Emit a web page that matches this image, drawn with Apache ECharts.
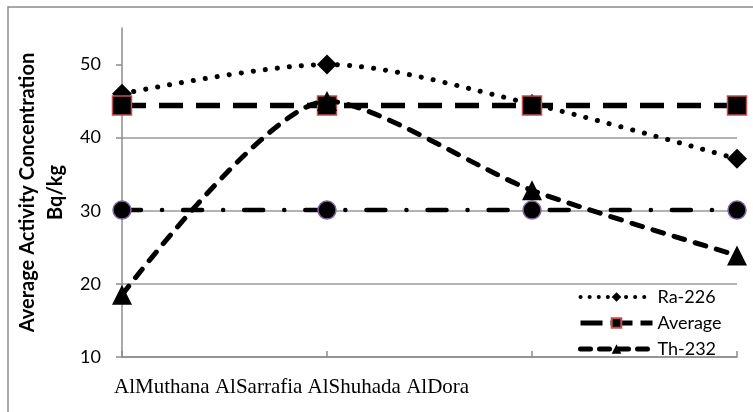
<!DOCTYPE html>
<html>
<head>
<meta charset="utf-8">
<script src="https://cdn.jsdelivr.net/npm/echarts@6/dist/echarts.min.js"></script>
<style>html,body{margin:0;padding:0;background:#fff}#c{width:753px;height:412px}</style>
</head>
<body>
<div id="c"></div>
<script>
const categories = ['AlMuthana', 'AlSarrafia', 'AlShuhada', 'AlDora'];
const ra226 = [46.0, 50.0, 44.6, 37.1];
const raAverage = [44.4, 44.4, 44.4, 44.4];
const th232 = [18.5, 45.0, 32.8, 23.9];
const thAverage = [30.1, 30.1, 30.1, 30.1];
const yTicks = [10, 20, 30, 40, 50];
const legendNames = ['Ra-226', 'Average', 'Th-232'];

const chart = echarts.init(document.getElementById('c'));
const gray = '#8c8c8c';
const labelFont = 'Lato, "Open Sans", sans-serif';

const raLine = { color: '#000', width: 5, type: [0.1, 12], cap: 'round' };
const avgLine = { color: '#000', width: 5.5, type: [24, 13] };
const thLine = { color: '#000', width: 5, type: [11, 11], cap: 'round' };
const thAvgLine = { color: '#000', width: 4.5, type: [19, 21, 0.1, 21], cap: 'round' };

chart.setOption({
  animation: false,
  backgroundColor: '#fff',
  grid: { left: 122, right: 16, top: 28, bottom: 55 },
  graphic: [
    { type: 'rect', shape: { x: 8, y: 7, width: 800, height: 450 }, style: { fill: 'none', stroke: gray, lineWidth: 1.5 }, silent: true, z: 0 },
    { type: 'text', left: 114, top: 377, style: { text: categories.join(' '), font: '21px "Liberation Serif", "Times New Roman", serif', fill: '#000' }, z: 10 }
  ],
  legend: {
    data: [
      { name: legendNames[0], lineStyle: { width: 4, type: [0.1, 9], cap: 'round' } },
      { name: legendNames[1], lineStyle: { width: 5, type: [22, 8] } },
      { name: legendNames[2], lineStyle: { width: 5, type: [10, 9], cap: 'round' } }
    ],
    orient: 'vertical',
    left: 578,
    top: 288,
    padding: 0,
    itemWidth: 72,
    itemHeight: 12,
    itemGap: 8,
    textStyle: { fontFamily: labelFont, fontSize: 18, color: '#000' }
  },
  xAxis: {
    type: 'category',
    data: categories,
    boundaryGap: false,
    axisLine: { lineStyle: { color: gray, width: 1.5 } },
    axisTick: { show: true, inside: true, length: 6, alignWithLabel: true, lineStyle: { color: gray, width: 1.5 } },
    axisLabel: { show: false },
    splitLine: { show: false }
  },
  yAxis: {
    type: 'value',
    min: 10,
    max: 55,
    interval: 10,
    name: 'Average Activity Concentration\nBq/kg',
    nameLocation: 'middle',
    nameGap: 41,
    nameTextStyle: { fontFamily: labelFont, fontSize: 20, fontWeight: 'bold', color: '#000', lineHeight: 28 },
    axisLine: { show: true, lineStyle: { color: gray, width: 1.5 } },
    axisTick: { show: true, length: 6, lineStyle: { color: gray, width: 1.5 }, customValues: yTicks },
    axisLabel: { fontFamily: labelFont, fontSize: 18, color: '#000', margin: 21, customValues: yTicks },
    splitLine: { show: true, showMaxLine: false, lineStyle: { color: '#9a9a9a', width: 1.5 } }
  },
  series: [
    {
      name: 'Ra-226', type: 'line', data: ra226, smooth: 0.3,
      symbol: 'diamond', symbolSize: 20,
      itemStyle: { color: '#000' },
      lineStyle: raLine,
      z: 3
    },
    {
      name: 'Average', type: 'line', data: raAverage,
      symbol: 'rect', symbolSize: 19,
      itemStyle: { color: '#000', borderColor: '#c0504d', borderWidth: 1.5 },
      lineStyle: avgLine,
      z: 4
    },
    {
      name: 'Th-232', type: 'line', data: th232, smooth: 0.25,
      symbol: 'triangle', symbolSize: 20,
      itemStyle: { color: '#000' },
      lineStyle: thLine,
      z: 5
    },
    {
      name: 'Average Th-232', type: 'line', data: thAverage,
      symbol: 'circle', symbolSize: 18,
      itemStyle: { color: '#000', borderColor: '#8064a2', borderWidth: 1.5 },
      lineStyle: thAvgLine,
      z: 4
    }
  ]
});
</script>
</body>
</html>
